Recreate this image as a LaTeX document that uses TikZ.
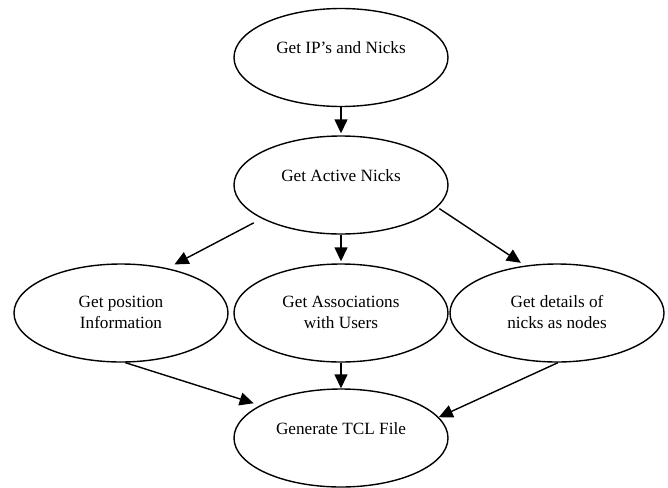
\documentclass[tikz,border=0pt]{standalone}
\usepackage{fontspec}
\setmainfont{Liberation Serif}
\usetikzlibrary{shapes.geometric,arrows.meta}
\begin{document}
\begin{tikzpicture}[x=1pt,y=-1pt,
  ell/.style={draw=black,ellipse,line width=1.4pt,minimum width=214pt,minimum height=98pt,inner sep=0pt},
  lbl/.style={font=\fontsize{17.2}{21}\selectfont,align=center,inner sep=0pt},
  conn/.style={line width=1.4pt,-{Triangle[length=14pt,width=13pt]}}]
\useasboundingbox (0,0) rectangle (668,487);
\node[ell] (n1) at (341,57.5) {};
\node[ell] (n2) at (341,185) {};
\node[ell] (n3) at (121,313) {};
\node[ell] (n4) at (341,313) {};
\node[ell] (n5) at (557,313) {};
\node[ell] (n6) at (341,438) {};
\node[lbl] (t1) at (341,48) {Get IP’s and Nicks};
\node[lbl] (t2) at (341,176) {Get Active Nicks};
\node[lbl] (t3) at (121,312.5) {Get position\\Information};
\node[lbl] (t4) at (341,312.5) {Get Associations\\with Users};
\node[lbl] (t5) at (557,312.5) {Get details of\\nicks as nodes};
\node[lbl] (t6) at (341,429) {Generate TCL File};
\draw[conn,shorten >=2pt] (n1.south) -- (n2.north);
\draw[conn,shorten <=9pt,shorten >=8pt] (n2.203.3) -- (n3.44.4);
\draw[conn,shorten >=2pt] (n2.south) -- (n4.north);
\draw[conn,shorten <=2.4pt,shorten >=5pt] (n2.-13.3) -- (n5.124.5);
\draw[conn,shorten >=6.6pt] (n3.-85.3) -- (n6.158.9);
\draw[conn] (n4.south) -- (n6.north);
\draw[conn] (n5.-89) -- (n6.12.2);
\end{tikzpicture}
\end{document}
